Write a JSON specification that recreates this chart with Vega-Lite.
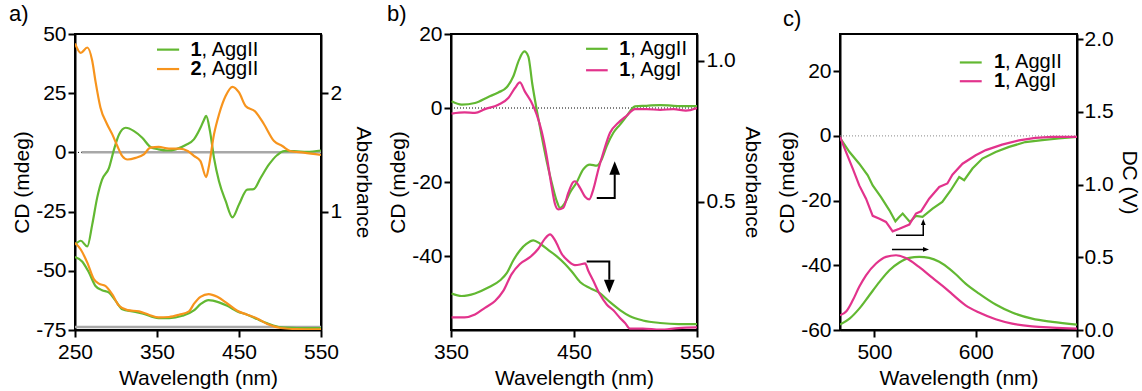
{
  "$schema": "https://vega.github.io/schema/vega-lite/v6.json",
  "padding": {"left": 8, "top": 2, "right": 0, "bottom": 0},
  "spacing": 11,
  "config": {
    "font": "Liberation Sans",
    "view": {"stroke": "black", "strokeWidth": 2},
    "axis": {"domainColor": "black", "domainWidth": 2, "tickColor": "black", "tickWidth": 2, "tickSize": 7, "labelFontSize": 21, "titleFontSize": 21, "labelColor": "black", "titleColor": "black", "titleFontWeight": "normal", "grid": false, "labelPadding": 2, "labelFlush": false, "labelOverlap": false},
    "axisX": {"labelPadding": 4, "titlePadding": 5},
    "title": {"fontSize": 22, "fontWeight": "normal", "anchor": "start", "frame": "group", "color": "black"}
  },
  "datasets": {
    "a_cd": [
      {"s":"g","x":250,"y":-39},{"s":"g","x":257,"y":-37.3},{"s":"g","x":265,"y":-39.7},{"s":"g","x":271,"y":-30.5},{"s":"g","x":277,"y":-19.2},{"s":"g","x":283,"y":-11.5},{"s":"g","x":291.5,"y":-6.5},{"s":"g","x":297.6,"y":1.3},{"s":"g","x":303.7,"y":7.6},{"s":"g","x":311.8,"y":10.4},{"s":"g","x":322,"y":9},{"s":"g","x":332,"y":6.2},{"s":"g","x":342,"y":2.3},{"s":"g","x":352,"y":1.3},{"s":"g","x":362.6,"y":0.8},{"s":"g","x":372.8,"y":1.3},{"s":"g","x":385,"y":3.1},{"s":"g","x":395,"y":5.5},{"s":"g","x":403,"y":10.4},{"s":"g","x":407,"y":13.5},{"s":"g","x":410,"y":15.4},{"s":"g","x":414.6,"y":9},{"s":"g","x":419.5,"y":-2.3},{"s":"g","x":425.6,"y":-12.2},{"s":"g","x":433.8,"y":-20.6},{"s":"g","x":442,"y":-27.4},{"s":"g","x":450,"y":-22},{"s":"g","x":460,"y":-15.7},{"s":"g","x":468,"y":-15.5},{"s":"g","x":476.5,"y":-10.7},{"s":"g","x":486.6,"y":-5.1},{"s":"g","x":496.7,"y":-1.1},{"s":"g","x":505,"y":0.5},{"s":"g","x":517,"y":0.5},{"s":"g","x":533,"y":0.2},{"s":"g","x":550,"y":0.8},
      {"s":"o","x":250,"y":46},{"s":"o","x":257,"y":42},{"s":"o","x":265,"y":44.3},{"s":"o","x":271,"y":38.7},{"s":"o","x":275,"y":30},{"s":"o","x":281,"y":19},{"s":"o","x":289,"y":12},{"s":"o","x":295.5,"y":7.6},{"s":"o","x":301.6,"y":2.7},{"s":"o","x":307.7,"y":-1.6},{"s":"o","x":314,"y":-3},{"s":"o","x":324,"y":-2.3},{"s":"o","x":334,"y":-0.8},{"s":"o","x":342,"y":2},{"s":"o","x":352,"y":2.3},{"s":"o","x":364.6,"y":1.6},{"s":"o","x":377,"y":1.6},{"s":"o","x":388,"y":0.5},{"s":"o","x":395,"y":-1.5},{"s":"o","x":403,"y":-3.7},{"s":"o","x":410,"y":-10.4},{"s":"o","x":413,"y":-6.4},{"s":"o","x":419.5,"y":7.6},{"s":"o","x":425.6,"y":16},{"s":"o","x":433.8,"y":23.9},{"s":"o","x":442,"y":27.7},{"s":"o","x":450,"y":25.3},{"s":"o","x":458,"y":19.6},{"s":"o","x":470,"y":17.2},{"s":"o","x":480.5,"y":11.9},{"s":"o","x":492.7,"y":4.8},{"s":"o","x":502.8,"y":2.7},{"s":"o","x":513,"y":0.5},{"s":"o","x":529,"y":-0.1},{"s":"o","x":550,"y":-1.1}
    ],
    "a_abs": [
      {"s":"g","x":250,"y":0.616},{"s":"g","x":259,"y":0.577},{"s":"g","x":267,"y":0.485},{"s":"g","x":275,"y":0.372},{"s":"g","x":283,"y":0.336},{"s":"g","x":291.5,"y":0.316},{"s":"g","x":299.6,"y":0.246},{"s":"g","x":307.7,"y":0.176},{"s":"g","x":320,"y":0.157},{"s":"g","x":332,"y":0.14},{"s":"g","x":352,"y":0.1},{"s":"g","x":365,"y":0.1},{"s":"g","x":381,"y":0.12},{"s":"g","x":395,"y":0.165},{"s":"g","x":403,"y":0.218},{"s":"g","x":413,"y":0.252},{"s":"g","x":425.6,"y":0.233},{"s":"g","x":435.7,"y":0.204},{"s":"g","x":448,"y":0.157},{"s":"g","x":460,"y":0.129},{"s":"g","x":472,"y":0.092},{"s":"g","x":484.5,"y":0.056},{"s":"g","x":501,"y":0.022},{"s":"g","x":520,"y":0.017},{"s":"g","x":550,"y":0.015},
      {"s":"o","x":250,"y":0.737},{"s":"o","x":257,"y":0.68},{"s":"o","x":265,"y":0.569},{"s":"o","x":273,"y":0.43},{"s":"o","x":279,"y":0.392},{"s":"o","x":287,"y":0.372},{"s":"o","x":295.5,"y":0.3},{"s":"o","x":303.7,"y":0.204},{"s":"o","x":314,"y":0.168},{"s":"o","x":328,"y":0.157},{"s":"o","x":340,"y":0.129},{"s":"o","x":352,"y":0.106},{"s":"o","x":364.6,"y":0.11},{"s":"o","x":377,"y":0.129},{"s":"o","x":389,"y":0.157},{"s":"o","x":395,"y":0.22},{"s":"o","x":403,"y":0.28},{"s":"o","x":413,"y":0.303},{"s":"o","x":423.5,"y":0.28},{"s":"o","x":435.7,"y":0.224},{"s":"o","x":448,"y":0.162},{"s":"o","x":460,"y":0.129},{"s":"o","x":472,"y":0.098},{"s":"o","x":484.5,"y":0.05},{"s":"o","x":501,"y":0.017},{"s":"o","x":520,"y":0.008},{"s":"o","x":550,"y":0.005}
    ],
    "b_cd": [
      {"s":"g","x":350.5,"y":1.8},{"s":"g","x":358.7,"y":0.9},{"s":"g","x":369.5,"y":1.35},{"s":"g","x":380.3,"y":3},{"s":"g","x":388.5,"y":4.2},{"s":"g","x":395.3,"y":5.6},{"s":"g","x":400.6,"y":8.5},{"s":"g","x":405.3,"y":13},{"s":"g","x":409.6,"y":15.3},{"s":"g","x":412.9,"y":13.9},{"s":"g","x":416,"y":6.7},{"s":"g","x":419.7,"y":-0.5},{"s":"g","x":423.7,"y":-7.6},{"s":"g","x":427.8,"y":-14.4},{"s":"g","x":431.9,"y":-20.2},{"s":"g","x":436,"y":-25.2},{"s":"g","x":438.6,"y":-27},{"s":"g","x":442.7,"y":-25.6},{"s":"g","x":446.7,"y":-22.9},{"s":"g","x":452,"y":-20.2},{"s":"g","x":457.5,"y":-16.6},{"s":"g","x":463,"y":-15.3},{"s":"g","x":468.5,"y":-15.6},{"s":"g","x":472.5,"y":-13.9},{"s":"g","x":476.6,"y":-10.3},{"s":"g","x":482,"y":-6.7},{"s":"g","x":487.4,"y":-4.5},{"s":"g","x":492.8,"y":-2.2},{"s":"g","x":499.6,"y":0.45},{"s":"g","x":509,"y":0.6},{"s":"g","x":520,"y":0.8},{"s":"g","x":531,"y":0.6},{"s":"g","x":542,"y":0.5},{"s":"g","x":550,"y":0.5},
      {"s":"p","x":350.5,"y":-1.5},{"s":"p","x":361,"y":-1.2},{"s":"p","x":369.5,"y":-1.3},{"s":"p","x":377.6,"y":-0.3},{"s":"p","x":388.5,"y":0.9},{"s":"p","x":396.6,"y":2.7},{"s":"p","x":402,"y":5.4},{"s":"p","x":406,"y":6.9},{"s":"p","x":410,"y":4.5},{"s":"p","x":415,"y":1.8},{"s":"p","x":419.7,"y":-1.8},{"s":"p","x":423.7,"y":-6.3},{"s":"p","x":427.8,"y":-13},{"s":"p","x":431.3,"y":-20.2},{"s":"p","x":434.6,"y":-26},{"s":"p","x":437.2,"y":-27.4},{"s":"p","x":441.3,"y":-27},{"s":"p","x":445.4,"y":-22.9},{"s":"p","x":449.4,"y":-20},{"s":"p","x":450.8,"y":-19.8},{"s":"p","x":454.9,"y":-21.6},{"s":"p","x":459,"y":-24},{"s":"p","x":462.4,"y":-24.7},{"s":"p","x":465.7,"y":-22},{"s":"p","x":469.8,"y":-16.6},{"s":"p","x":473.8,"y":-12.1},{"s":"p","x":479.3,"y":-6.7},{"s":"p","x":486,"y":-4},{"s":"p","x":492.8,"y":-2.1},{"s":"p","x":499.6,"y":-0.3},{"s":"p","x":509,"y":-0.3},{"s":"p","x":520,"y":-0.5},{"s":"p","x":531,"y":-0.3},{"s":"p","x":541,"y":-0.7},{"s":"p","x":550,"y":0}
    ],
    "b_abs": [
      {"s":"g","x":350.5,"y":0.173},{"s":"g","x":358.7,"y":0.164},{"s":"g","x":369.5,"y":0.173},{"s":"g","x":380.3,"y":0.194},{"s":"g","x":390,"y":0.22},{"s":"g","x":395.3,"y":0.245},{"s":"g","x":400.6,"y":0.29},{"s":"g","x":406,"y":0.326},{"s":"g","x":411.5,"y":0.35},{"s":"g","x":416.9,"y":0.362},{"s":"g","x":422.4,"y":0.35},{"s":"g","x":429,"y":0.328},{"s":"g","x":436,"y":0.305},{"s":"g","x":442.7,"y":0.278},{"s":"g","x":448,"y":0.252},{"s":"g","x":454.9,"y":0.214},{"s":"g","x":463,"y":0.192},{"s":"g","x":471,"y":0.174},{"s":"g","x":479.3,"y":0.142},{"s":"g","x":487.4,"y":0.114},{"s":"g","x":495.5,"y":0.092},{"s":"g","x":506,"y":0.077},{"s":"g","x":520,"y":0.068},{"s":"g","x":535,"y":0.064},{"s":"g","x":550,"y":0.064},
      {"s":"p","x":350.5,"y":0.088},{"s":"p","x":361,"y":0.088},{"s":"p","x":369.5,"y":0.098},{"s":"p","x":377.6,"y":0.122},{"s":"p","x":385.8,"y":0.146},{"s":"p","x":392.5,"y":0.182},{"s":"p","x":399.3,"y":0.242},{"s":"p","x":406,"y":0.278},{"s":"p","x":414.2,"y":0.302},{"s":"p","x":421,"y":0.332},{"s":"p","x":426.4,"y":0.368},{"s":"p","x":430.5,"y":0.383},{"s":"p","x":434.6,"y":0.362},{"s":"p","x":440,"y":0.314},{"s":"p","x":445.4,"y":0.288},{"s":"p","x":450.8,"y":0.274},{"s":"p","x":455,"y":0.276},{"s":"p","x":459,"y":0.28},{"s":"p","x":461.6,"y":0.254},{"s":"p","x":465.7,"y":0.218},{"s":"p","x":471,"y":0.17},{"s":"p","x":476.6,"y":0.134},{"s":"p","x":482,"y":0.113},{"s":"p","x":487.4,"y":0.086},{"s":"p","x":491.5,"y":0.068},{"s":"p","x":495.5,"y":0.048},{"s":"p","x":506,"y":0.048},{"s":"p","x":520,"y":0.044},{"s":"p","x":535,"y":0.05},{"s":"p","x":550,"y":0.052}
    ],
    "c_cd": [
      {"s":"g","x":466,"y":-0.6},{"s":"g","x":475.4,"y":-5},{"s":"g","x":485,"y":-8.6},{"s":"g","x":493.4,"y":-12.2},{"s":"g","x":498.3,"y":-15.3},{"s":"g","x":506.5,"y":-18.9},{"s":"g","x":514.8,"y":-23},{"s":"g","x":520.7,"y":-26.4},{"s":"g","x":524,"y":-25.2},{"s":"g","x":527.9,"y":-24},{"s":"g","x":535,"y":-26.6},{"s":"g","x":541,"y":-24.7},{"s":"g","x":547.5,"y":-25},{"s":"g","x":557.4,"y":-22.5},{"s":"g","x":567,"y":-20.4},{"s":"g","x":575.4,"y":-16.8},{"s":"g","x":583.7,"y":-12.7},{"s":"g","x":588.6,"y":-13.7},{"s":"g","x":596.8,"y":-10.1},{"s":"g","x":606.6,"y":-7},{"s":"g","x":619.7,"y":-5},{"s":"g","x":632.9,"y":-3.4},{"s":"g","x":649,"y":-1.9},{"s":"g","x":665.6,"y":-1.3},{"s":"g","x":682,"y":-0.8},{"s":"g","x":700,"y":-0.3},
      {"s":"p","x":466,"y":-0.3},{"s":"p","x":472,"y":-5},{"s":"p","x":478.6,"y":-10.1},{"s":"p","x":485,"y":-15.3},{"s":"p","x":491.7,"y":-19.4},{"s":"p","x":498.3,"y":-24.7},{"s":"p","x":505,"y":-25.6},{"s":"p","x":511.4,"y":-26.6},{"s":"p","x":518,"y":-29.5},{"s":"p","x":524.6,"y":-28.7},{"s":"p","x":534.4,"y":-27.4},{"s":"p","x":541,"y":-24},{"s":"p","x":546,"y":-23.3},{"s":"p","x":554,"y":-19.4},{"s":"p","x":564,"y":-15.8},{"s":"p","x":572,"y":-14.7},{"s":"p","x":577,"y":-12},{"s":"p","x":587,"y":-8.6},{"s":"p","x":600,"y":-6},{"s":"p","x":610,"y":-4.4},{"s":"p","x":626,"y":-2.7},{"s":"p","x":642.6,"y":-1.4},{"s":"p","x":659,"y":-0.6},{"s":"p","x":675.6,"y":-0.3},{"s":"p","x":700,"y":-0.3}
    ],
    "c_dc": [
      {"s":"g","x":466,"y":0.037},{"s":"g","x":475.4,"y":0.078},{"s":"g","x":485,"y":0.147},{"s":"g","x":495,"y":0.239},{"s":"g","x":505,"y":0.331},{"s":"g","x":514.8,"y":0.411},{"s":"g","x":524.6,"y":0.464},{"s":"g","x":534.4,"y":0.496},{"s":"g","x":544.3,"y":0.503},{"s":"g","x":554,"y":0.496},{"s":"g","x":564,"y":0.469},{"s":"g","x":573.8,"y":0.422},{"s":"g","x":580,"y":0.385},{"s":"g","x":590,"y":0.319},{"s":"g","x":603.3,"y":0.25},{"s":"g","x":619.7,"y":0.175},{"s":"g","x":636,"y":0.12},{"s":"g","x":655.7,"y":0.078},{"s":"g","x":675.6,"y":0.056},{"s":"g","x":700,"y":0.037},
      {"s":"p","x":466,"y":0.101},{"s":"p","x":472.3,"y":0.129},{"s":"p","x":478.6,"y":0.204},{"s":"p","x":485,"y":0.297},{"s":"p","x":491.7,"y":0.376},{"s":"p","x":501.6,"y":0.457},{"s":"p","x":511.4,"y":0.503},{"s":"p","x":521.3,"y":0.514},{"s":"p","x":531,"y":0.496},{"s":"p","x":544,"y":0.434},{"s":"p","x":557.4,"y":0.358},{"s":"p","x":570.5,"y":0.285},{"s":"p","x":577,"y":0.245},{"s":"p","x":590,"y":0.17},{"s":"p","x":603.3,"y":0.12},{"s":"p","x":619.7,"y":0.074},{"s":"p","x":636,"y":0.044},{"s":"p","x":655.7,"y":0.025},{"s":"p","x":675.6,"y":0.016},{"s":"p","x":700,"y":0.009}
    ]
  },
  "hconcat": [
    {
      "width": 246, "height": 296,
      "title": {"text": "a)", "dx": -66, "offset": -3},
      "resolve": {"scale": {"y": "independent"}},
      "encoding": {"x": {"field": "x", "type": "quantitative", "title": "Wavelength (nm)", "scale": {"domain": [250, 550], "nice": false, "zero": false}, "axis": {"values": [250, 350, 450, 550]}}},
      "layer": [
        {
          "encoding": {"y": {"field": "y", "type": "quantitative", "title": "CD (mdeg)", "scale": {"domain": [-75, 50], "nice": false, "zero": false}, "axis": {"values": [-75, -50, -25, 0, 25, 50], "titlePadding": 3, "labelExpr": "replace(datum.label, '\u2212', '-')"}}},
          "layer": [
            {"data": {"values": [{"x": 250, "y": 0}, {"x": 262, "y": 0}]}, "mark": {"type": "line", "color": "black", "strokeDash": [1, 2], "strokeWidth": 1}, "encoding": {}},
            {"data": {"values": [{"x": 258, "y": 0.1}, {"x": 550, "y": 0.1}]}, "mark": {"type": "line", "color": "#a8a8a8", "strokeWidth": 2.5}, "encoding": {}},
            {"data": {"name": "a_cd"}, "mark": {"type": "line", "strokeWidth": 2.2, "clip": true, "interpolate": "monotone"}, "encoding": {"color": {"field": "s", "type": "nominal", "scale": {"domain": ["g", "o", "p"], "range": ["#62b832", "#f7941d", "#e2338c"]}, "legend": null}}},
            {"data": {"values": [{"s": "g", "x": 350, "y": 43.4}, {"s": "g", "x": 377, "y": 43.4}, {"s": "o", "x": 350, "y": 35.2}, {"s": "o", "x": 377, "y": 35.2}]}, "mark": {"type": "line", "strokeWidth": 2.2}, "encoding": {"color": {"field": "s", "type": "nominal", "scale": {"domain": ["g", "o", "p"], "range": ["#62b832", "#f7941d", "#e2338c"]}, "legend": null}}},
            {"data": {"values": [{"x": 391, "y": 43.4, "t": "1"}, {"x": 391, "y": 35.2, "t": "2"}]}, "mark": {"type": "text", "align": "left", "baseline": "middle", "fontSize": 20, "fontWeight": "bold", "color": "black"}, "encoding": {"text": {"field": "t"}}},
            {"data": {"values": [{"x": 391, "y": 43.4, "t": ", AggII"}, {"x": 391, "y": 35.2, "t": ", AggII"}]}, "mark": {"type": "text", "align": "left", "baseline": "middle", "fontSize": 20, "dx": 11, "color": "black"}, "encoding": {"text": {"field": "t"}}}
          ]
        },
        {
          "encoding": {"y": {"field": "y", "type": "quantitative", "title": "Absorbance", "scale": {"domain": [0, 2.5], "nice": false, "zero": false}, "axis": {"orient": "right", "values": [1, 2], "titlePadding": 11}}},
          "layer": [
            {"data": {"values": [{"x": 250, "y": 0.025}, {"x": 550, "y": 0.025}]}, "mark": {"type": "line", "color": "#a8a8a8", "strokeWidth": 2.5}, "encoding": {}},
            {"data": {"name": "a_abs"}, "mark": {"type": "line", "strokeWidth": 2.2, "clip": true, "interpolate": "monotone"}, "encoding": {"color": {"field": "s", "type": "nominal", "scale": {"domain": ["g", "o", "p"], "range": ["#62b832", "#f7941d", "#e2338c"]}, "legend": null}}}
          ]
        }
      ]
    },
    {
      "width": 246, "height": 296,
      "title": {"text": "b)", "dx": -64, "offset": -3},
      "resolve": {"scale": {"y": "independent"}},
      "encoding": {"x": {"field": "x", "type": "quantitative", "title": "Wavelength (nm)", "scale": {"domain": [350, 550], "nice": false, "zero": false}, "axis": {"values": [350, 450, 550]}}},
      "layer": [
        {
          "encoding": {"y": {"field": "y", "type": "quantitative", "title": "CD (mdeg)", "scale": {"domain": [-60, 20], "nice": false, "zero": false}, "axis": {"values": [-40, -20, 0, 20], "titlePadding": 3, "labelExpr": "replace(datum.label, '\u2212', '-')"}}},
          "layer": [
            {"data": {"values": [{"x": 350, "y": 0}, {"x": 550, "y": 0}]}, "mark": {"type": "line", "color": "black", "strokeDash": [1, 2], "strokeWidth": 1}, "encoding": {}},
            {"data": {"name": "b_cd"}, "mark": {"type": "line", "strokeWidth": 2.2, "clip": true, "interpolate": "monotone"}, "encoding": {"color": {"field": "s", "type": "nominal", "scale": {"domain": ["g", "o", "p"], "range": ["#62b832", "#f7941d", "#e2338c"]}, "legend": null}}},
            {"data": {"values": [{"s": "g", "x": 459.8, "y": 16.0}, {"s": "g", "x": 477.4, "y": 16.0}, {"s": "p", "x": 459.8, "y": 10.2}, {"s": "p", "x": 477.4, "y": 10.2}]}, "mark": {"type": "line", "strokeWidth": 2.2}, "encoding": {"color": {"field": "s", "type": "nominal", "scale": {"domain": ["g", "o", "p"], "range": ["#62b832", "#f7941d", "#e2338c"]}, "legend": null}}},
            {"data": {"values": [{"x": 486.8, "y": 16.0, "t": "1"}, {"x": 486.8, "y": 10.2, "t": "1"}]}, "mark": {"type": "text", "align": "left", "baseline": "middle", "fontSize": 20, "fontWeight": "bold", "color": "black"}, "encoding": {"text": {"field": "t"}}},
            {"data": {"values": [{"x": 486.8, "y": 16.0, "t": ", AggII"}, {"x": 486.8, "y": 10.2, "t": ", AggI"}]}, "mark": {"type": "text", "align": "left", "baseline": "middle", "fontSize": 20, "dx": 11, "color": "black"}, "encoding": {"text": {"field": "t"}}},
            {"data": {"values": [{"g": 1, "o": 1, "x": 468.5, "y": -24.3}, {"g": 1, "o": 2, "x": 483.1, "y": -24.3}, {"g": 1, "o": 3, "x": 483.1, "y": -17.9}, {"g": 2, "o": 1, "x": 460.3, "y": -41.5}, {"g": 2, "o": 2, "x": 478.7, "y": -41.5}, {"g": 2, "o": 3, "x": 478.7, "y": -46.4}]}, "mark": {"type": "line", "color": "black", "strokeWidth": 2}, "encoding": {"detail": {"field": "g"}, "order": {"field": "o"}}},
            {"data": {"values": [{"x": 483.1, "y": -16.2}]}, "mark": {"type": "point", "filled": true, "color": "black", "opacity": 1, "shape": "M0,-1L0.8,1L-0.8,1Z", "size": 180}, "encoding": {}},
            {"data": {"values": [{"x": 478.7, "y": -48.2}]}, "mark": {"type": "point", "filled": true, "color": "black", "opacity": 1, "shape": "M0,1L0.8,-1L-0.8,-1Z", "size": 180}, "encoding": {}}
          ]
        },
        {
          "encoding": {"y": {"field": "y", "type": "quantitative", "title": "Absorbance", "scale": {"domain": [0.043, 1.096], "nice": false, "zero": false}, "axis": {"orient": "right", "values": [0.5, 1.0], "format": ".1f", "titlePadding": 6}}},
          "layer": [
            {"data": {"name": "b_abs"}, "mark": {"type": "line", "strokeWidth": 2.2, "clip": true, "interpolate": "monotone"}, "encoding": {"color": {"field": "s", "type": "nominal", "scale": {"domain": ["g", "o", "p"], "range": ["#62b832", "#f7941d", "#e2338c"]}, "legend": null}}}
          ]
        }
      ]
    },
    {
      "width": 237, "height": 296,
      "title": {"text": "c)", "dx": -57, "offset": -3},
      "resolve": {"scale": {"y": "independent"}},
      "encoding": {"x": {"field": "x", "type": "quantitative", "title": "Wavelength (nm)", "scale": {"domain": [466, 700], "nice": false, "zero": false}, "axis": {"values": [500, 600, 700]}}},
      "layer": [
        {
          "encoding": {"y": {"field": "y", "type": "quantitative", "title": "CD (mdeg)", "scale": {"domain": [-60, 31.5], "nice": false, "zero": false}, "axis": {"values": [-60, -40, -20, 0, 20], "titlePadding": 3, "labelExpr": "replace(datum.label, '\u2212', '-')"}}},
          "layer": [
            {"data": {"values": [{"x": 466, "y": 0}, {"x": 700, "y": 0}]}, "mark": {"type": "line", "color": "#888888", "strokeDash": [1, 2], "strokeWidth": 1}, "encoding": {}},
            {"data": {"name": "c_cd"}, "mark": {"type": "line", "strokeWidth": 2.2, "clip": true}, "encoding": {"color": {"field": "s", "type": "nominal", "scale": {"domain": ["g", "o", "p"], "range": ["#62b832", "#f7941d", "#e2338c"]}, "legend": null}}},
            {"data": {"values": [{"s": "g", "x": 584.3, "y": 22.7}, {"s": "g", "x": 605.9, "y": 22.7}, {"s": "p", "x": 584.3, "y": 16.9}, {"s": "p", "x": 605.9, "y": 16.9}]}, "mark": {"type": "line", "strokeWidth": 2.2}, "encoding": {"color": {"field": "s", "type": "nominal", "scale": {"domain": ["g", "o", "p"], "range": ["#62b832", "#f7941d", "#e2338c"]}, "legend": null}}},
            {"data": {"values": [{"x": 618.1, "y": 22.7, "t": "1"}, {"x": 618.1, "y": 16.9, "t": "1"}]}, "mark": {"type": "text", "align": "left", "baseline": "middle", "fontSize": 20, "fontWeight": "bold", "color": "black"}, "encoding": {"text": {"field": "t"}}},
            {"data": {"values": [{"x": 618.1, "y": 22.7, "t": ", AggII"}, {"x": 618.1, "y": 16.9, "t": ", AggI"}]}, "mark": {"type": "text", "align": "left", "baseline": "middle", "fontSize": 20, "dx": 11, "color": "black"}, "encoding": {"text": {"field": "t"}}},
            {"data": {"values": [{"g": 1, "o": 1, "x": 521.3, "y": -30.7}, {"g": 1, "o": 2, "x": 548.2, "y": -30.7}, {"g": 1, "o": 3, "x": 548.2, "y": -27.5}, {"g": 2, "o": 1, "x": 517.3, "y": -35.1}, {"g": 2, "o": 2, "x": 549, "y": -35.1}]}, "mark": {"type": "line", "color": "black", "strokeWidth": 1.5}, "encoding": {"detail": {"field": "g"}, "order": {"field": "o"}}},
            {"data": {"values": [{"x": 548.2, "y": -26.6}]}, "mark": {"type": "point", "filled": true, "color": "black", "opacity": 1, "shape": "M0,-1L0.8,1L-0.8,1Z", "size": 36}, "encoding": {}},
            {"data": {"values": [{"x": 550.9, "y": -35.1}]}, "mark": {"type": "point", "filled": true, "color": "black", "opacity": 1, "shape": "M1,0L-1,0.8L-1,-0.8Z", "size": 36}, "encoding": {}}
          ]
        },
        {
          "encoding": {"y": {"field": "y", "type": "quantitative", "title": "DC (V)", "scale": {"domain": [0, 2.036], "nice": false, "zero": false}, "axis": {"orient": "right", "values": [0, 0.5, 1, 1.5, 2], "format": ".1f", "titlePadding": 5, "labelPadding": 1, "tickSize": 6}}},
          "layer": [
            {"data": {"name": "c_dc"}, "mark": {"type": "line", "strokeWidth": 2.2, "clip": true, "interpolate": "monotone"}, "encoding": {"color": {"field": "s", "type": "nominal", "scale": {"domain": ["g", "o", "p"], "range": ["#62b832", "#f7941d", "#e2338c"]}, "legend": null}}}
          ]
        }
      ]
    }
  ]
}
